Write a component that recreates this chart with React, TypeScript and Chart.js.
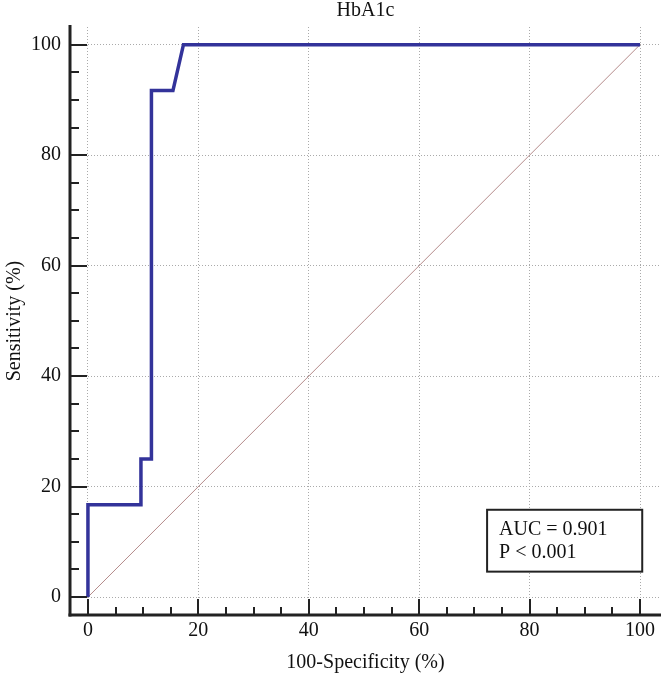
import React, { useEffect, useRef } from "react";
import { Chart, registerables } from "chart.js";

Chart.register(...registerables);

const FONT = "'Liberation Serif', 'Times New Roman', Times, serif";

const chartTitle = "HbA1c";
const xAxisTitle = "100-Specificity (%)";
const yAxisTitle = "Sensitivity (%)";

// ROC curve (100-specificity, sensitivity)
const fpr = [0, 0, 9.6, 9.6, 11.5, 11.5, 15.4, 17.3, 100];
const tpr = [0, 16.7, 16.7, 25, 25, 91.7, 91.7, 100, 100];

// reference diagonal
const refX = [0, 100];
const refY = [0, 100];

const majorTicks = [0, 20, 40, 60, 80, 100];
const minorTicks = [5, 10, 15, 25, 30, 35, 45, 50, 55, 65, 70, 75, 85, 90, 95];

const statLines = ["AUC = 0.901", "P < 0.001"];
// stat box corners in data units
const statBox = { left: 72.3, right: 100.4, top: 15.8, bottom: 4.6 };

const axesPlugin = {
  id: "rocAxes",
  afterDraw(chart: any) {
    const { ctx, chartArea: a, scales } = chart;
    const x = scales.x;
    const y = scales.y;
    const line = (x1: number, y1: number, x2: number, y2: number) => {
      ctx.beginPath();
      ctx.moveTo(x1, y1);
      ctx.lineTo(x2, y2);
      ctx.stroke();
    };
    ctx.save();
    ctx.strokeStyle = "#222";
    ctx.lineCap = "butt";
    // tick marks (inside)
    ctx.lineWidth = 2;
    majorTicks.forEach((v) => {
      const px = Math.round(x.getPixelForValue(v));
      line(px, a.bottom, px, a.bottom - 16);
      const py = Math.round(y.getPixelForValue(v));
      line(a.left, py, a.left + 17, py);
    });
    minorTicks.forEach((v) => {
      const px = Math.round(x.getPixelForValue(v));
      line(px, a.bottom, px, a.bottom - 8);
      const py = Math.round(y.getPixelForValue(v));
      line(a.left, py, a.left + 9, py);
    });
    // axis lines
    ctx.lineWidth = 3;
    line(a.left, a.top - 2, a.left, a.bottom + 1.5);
    line(a.left - 1.5, a.bottom, a.right, a.bottom);

    // stat box
    const bl = x.getPixelForValue(statBox.left);
    const br = x.getPixelForValue(statBox.right);
    const bt = y.getPixelForValue(statBox.top);
    const bb = y.getPixelForValue(statBox.bottom);
    ctx.fillStyle = "#fff";
    ctx.fillRect(bl, bt, br - bl, bb - bt);
    ctx.lineWidth = 2;
    ctx.strokeRect(bl, bt, br - bl, bb - bt);
    ctx.fillStyle = "#111";
    ctx.font = `20px ${FONT}`;
    ctx.textAlign = "left";
    ctx.textBaseline = "alphabetic";
    statLines.forEach((t, i) => {
      ctx.fillText(t, bl + 12, bt + 25 + i * 23);
    });
    ctx.restore();
  },
};

export default function App() {
  const ref = useRef<HTMLCanvasElement | null>(null);

  useEffect(() => {
    if (!ref.current) return;
    const tickFont = { family: FONT, size: 20 };
    const chart = new Chart(ref.current, {
      type: "scatter",
      data: {
        datasets: [
          {
            label: "ROC",
            data: fpr.map((v, i) => ({ x: v, y: tpr[i] })),
            showLine: true,
            borderColor: "#33339a",
            borderWidth: 3.5,
            pointRadius: 0,
            borderJoinStyle: "miter",
            borderCapStyle: "butt",
            tension: 0,
          },
          {
            label: "Reference",
            data: refX.map((v, i) => ({ x: v, y: refY[i] })),
            showLine: true,
            borderColor: "#b48a8a",
            borderWidth: 1,
            pointRadius: 0,
          },
        ],
      },
      options: {
        responsive: false,
        animation: false,
        devicePixelRatio: 1,
        layout: { padding: { left: 0, right: 0, top: 0, bottom: 0 } },
        plugins: {
          legend: { display: false },
          tooltip: { enabled: false },
          title: {
            display: true,
            text: chartTitle,
            fullSize: false,
            color: "#111",
            font: { family: FONT, size: 20, weight: "normal", lineHeight: 1.1 },
            padding: { top: 0, bottom: 5 },
          },
        },
        scales: {
          x: {
            type: "linear",
            min: -3.25,
            max: 103.8,
            afterBuildTicks: (s: any) => {
              s.ticks = majorTicks.map((v) => ({ value: v }));
            },
            afterFit: (s: any) => {
              s.height = 62;
            },
            ticks: {
              color: "#111",
              font: tickFont,
              padding: 4,
              maxRotation: 0,
              autoSkip: false,
            },
            grid: {
              color: "#aaaaaa",
              lineWidth: 1,
              drawTicks: false,
            },
            border: { display: false, dash: [1, 2] },
            title: {
              display: true,
              text: xAxisTitle,
              color: "#111",
              font: tickFont,
              padding: { top: 0, bottom: 2 },
            },
          },
          y: {
            type: "linear",
            min: -3.25,
            max: 103.2,
            afterBuildTicks: (s: any) => {
              s.ticks = majorTicks.map((v) => ({ value: v }));
            },
            afterFit: (s: any) => {
              s.width = 70;
            },
            ticks: {
              color: "#111",
              font: tickFont,
              padding: 9,
              autoSkip: false,
            },
            grid: {
              color: "#aaaaaa",
              lineWidth: 1,
              drawTicks: false,
            },
            border: { display: false, dash: [1, 2] },
            title: {
              display: true,
              text: yAxisTitle,
              color: "#111",
              font: tickFont,
              padding: { top: 3, bottom: 0 },
            },
          },
        },
      },
      plugins: [axesPlugin],
    } as any);
    return () => chart.destroy();
  }, []);

  return (
    <div style={{ position: "absolute", left: 0, top: 0, width: 661, height: 677, background: "#fff" }}>
      <canvas ref={ref} width={661} height={677} style={{ display: "block" }} />
    </div>
  );
}
